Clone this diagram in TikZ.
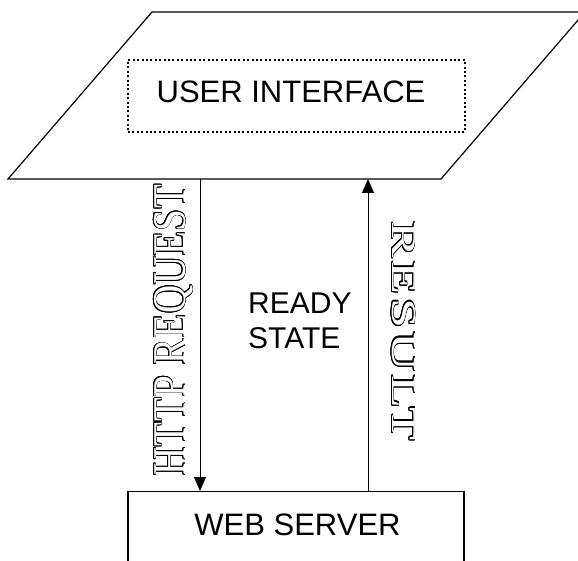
\documentclass[tikz,border=0pt]{standalone}
\usepackage{fontspec}
\setmainfont{Liberation Sans}
\newfontfamily\hollowfont{Liberation Serif}
\usepackage[copies]{contour}
\usetikzlibrary{arrows.meta}
\contourlength{0.95pt}
\newcommand{\hollow}[1]{\textcolor{white}{\contour{black}{#1}}}

\begin{document}
\begin{tikzpicture}[x=1pt, y=-1pt,
    uiline/.style={line width=1.2pt},
    dotbox/.style={draw, line width=2pt, dash pattern=on 2pt off 2.4pt, inner sep=0pt},
    flowarrow/.style={line width=1pt, -{Triangle[length=14pt, width=12pt]}},
    sanslabel/.style={font=\fontsize{31}{35}\selectfont, inner sep=0pt}]
    \useasboundingbox (0,0) rectangle (578,561);
    \clip (0,0) rectangle (578,561);

    % Draw user interface parallelogram
    \draw[uiline] (8,179) -- (441,179) -- (585,12) -- (152,12) -- cycle;
    \node[dotbox, minimum width=337pt, minimum height=72pt] (uibox) at (296.5,96) {};
    \node[sanslabel, anchor=base] (ui) at (291,103) {USER INTERFACE};

    % Draw web server box, open at the bottom
    \node[draw, uiline, minimum width=336pt, minimum height=120pt, anchor=north] (web) at (296,491) {};
    \node[sanslabel, anchor=base] (webtxt) at (297.5,535) {WEB SERVER};

    % Request and result arrows
    \coordinate (reqtop) at (200,179);
    \coordinate (restop) at (368,179);
    \draw[flowarrow] (reqtop) -- (reqtop |- web.north);
    \draw[flowarrow] (restop |- web.north) -- (restop);

    % Labels
    \node[rotate=90, anchor=base, inner sep=0pt] (req) at (185,330)
        {\scalebox{0.83}[1]{\hollowfont\fontsize{47}{47}\selectfont\addfontfeatures{LetterSpace=2}\hollow{HTTP REQUEST}}};
    \node[rotate=-90, anchor=base, inner sep=0pt] (res) at (392,331)
        {\scalebox{1.55}[1]{\hollowfont\fontsize{35}{35}\selectfont\addfontfeatures{LetterSpace=7}\hollow{RESULT}}};
    \node[sanslabel, font=\fontsize{30}{35}\selectfont, align=left, anchor=west] (ready) at (248,321) {READY\\STATE};
\end{tikzpicture}
\end{document}
